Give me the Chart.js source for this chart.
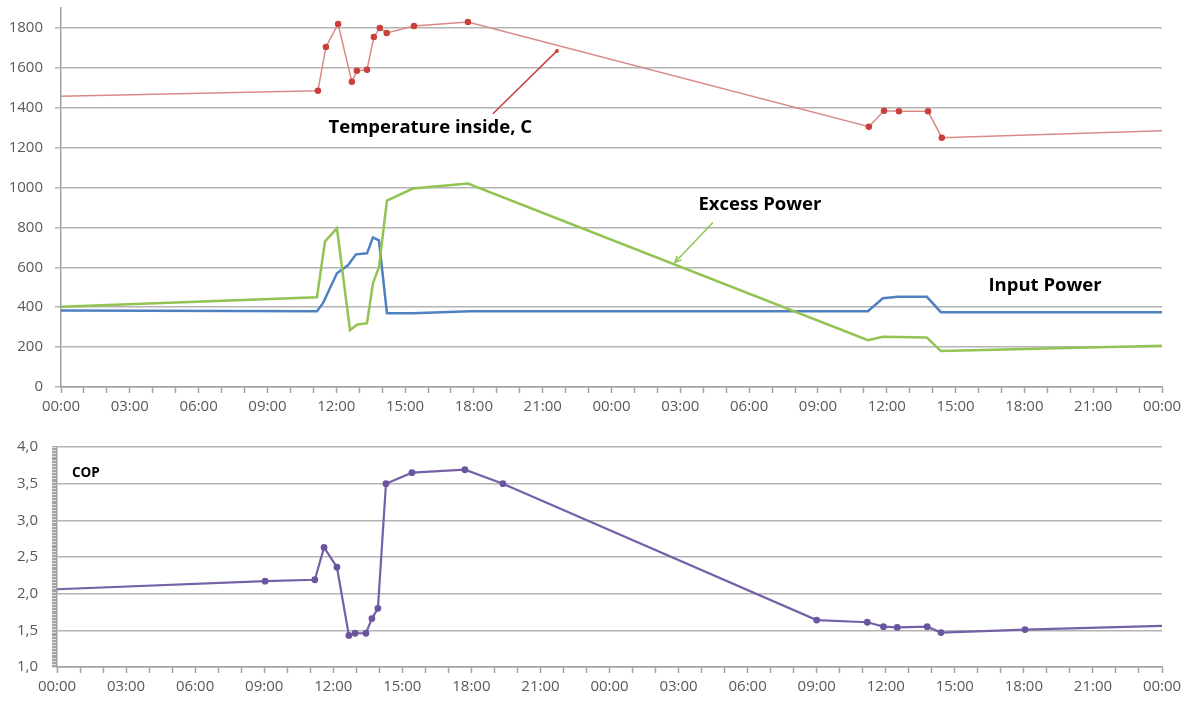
<!DOCTYPE html>
<html><head><meta charset="utf-8">
<script src="https://cdn.jsdelivr.net/npm/chart.js@4.4.0/dist/chart.umd.min.js"></script>
<style>
html,body{margin:0;padding:0;background:#fff;}
#wrap{position:relative;width:1192px;height:702px;overflow:hidden;background:#fff;}
#c1{position:absolute;left:0;top:-13px;}
#c2{position:absolute;left:0;top:424px;}
</style></head><body>
<div id="wrap"><canvas id="c1" width="1192" height="443"></canvas><canvas id="c2" width="1192" height="278"></canvas></div>
<script>
// ---- data (x = hours from the first midnight, 0..48) ----
const tempHours  = [0, 11.2, 11.55, 12.08, 12.68, 12.9, 13.34, 13.64, 13.9, 14.2, 15.39, 17.74, 35.22, 35.88, 36.53, 37.8, 38.4, 48];
const tempValues = [1458, 1485, 1705, 1820, 1530, 1585, 1590, 1755, 1800, 1775, 1810, 1830, 1305, 1385, 1382, 1382, 1250, 1285];

const excessHours  = [0, 11.16, 11.51, 12.03, 12.6, 12.9, 13.34, 13.6, 13.86, 14.21, 15.34, 17.74, 35.18, 35.83, 37.75, 38.36, 48];
const excessValues = [402, 450, 730, 795, 285, 312, 320, 520, 600, 935, 995, 1020, 235, 252, 248, 180, 207];

const inputHours  = [0, 11.16, 11.42, 12.03, 12.51, 12.86, 13.34, 13.6, 13.86, 14.21, 15.34, 17.83, 35.18, 35.83, 36.5, 37.75, 38.36, 48];
const inputValues = [383, 380, 420, 570, 610, 665, 670, 750, 735, 370, 370, 380, 380, 445, 452, 452, 375, 375];

const copHours  = [0, 9.04, 11.2, 11.6, 12.16, 12.68, 12.95, 13.42, 13.68, 13.94, 14.29, 15.42, 17.72, 19.37, 33.0, 35.2, 35.9, 36.5, 37.8, 38.4, 42.05, 48];
const copValues = [2.06, 2.17, 2.19, 2.63, 2.36, 1.43, 1.46, 1.46, 1.66, 1.80, 3.50, 3.65, 3.69, 3.50, 1.64, 1.61, 1.55, 1.54, 1.55, 1.47, 1.51, 1.56];

const topTicksY = [0, 200, 400, 600, 800, 1000, 1200, 1400, 1600, 1800];
const copTicksY = [1.0, 1.5, 2.0, 2.5, 3.0, 3.5, 4.0];

// annotation labels: [text, hour, value]
const topLabels = [["Temperature inside, C", 16.1, 1300], ["Excess Power", 30.47, 915], ["Input Power", 42.9, 510]];
const copLabels = [["COP", 0.65, 3.65]];
// annotation leader lines: [hour1, value1, hour2, value2]
const tempLeader   = [21.62, 1685, 18.83, 1370];
const excessLeader = [28.42, 825, 26.77, 625];

// ---- helpers ----
const pts = (hs, vs) => hs.map((h, i) => ({x: h, y: vs[i]}));
const hourLabel = v => (v % 3 === 0) ? String(v % 24).padStart(2, '0') + ':00' : '';
const GRID = '#b4b4b4';
const AXIS = '#a0a0a0';
const TXT = '#595959';

Chart.defaults.font.family = "'Open Sans', sans-serif";
Chart.defaults.font.size = 15;
Chart.defaults.color = TXT;

const notes = {
  id: 'notes',
  afterDatasetsDraw(chart, args, o) {
    const {ctx, scales: {x, y}} = chart;
    ctx.save();
    (o.lines || []).forEach(l => {
      const x1 = x.getPixelForValue(l.p[0]), y1 = y.getPixelForValue(l.p[1]);
      const x2 = x.getPixelForValue(l.p[2]), y2 = y.getPixelForValue(l.p[3]);
      ctx.strokeStyle = l.color; ctx.lineWidth = 1.5;
      ctx.beginPath(); ctx.moveTo(x1, y1); ctx.lineTo(x2, y2); ctx.stroke();
      if (l.dot) { ctx.fillStyle = l.color; ctx.beginPath(); ctx.arc(x1, y1, 2, 0, Math.PI * 2); ctx.fill(); }
      if (l.arrow) {
        const a = Math.atan2(y2 - y1, x2 - x1), s = 7;
        ctx.beginPath();
        ctx.moveTo(x2 - s * Math.cos(a - 0.45), y2 - s * Math.sin(a - 0.45));
        ctx.lineTo(x2, y2);
        ctx.lineTo(x2 - s * Math.cos(a + 0.45), y2 - s * Math.sin(a + 0.45));
        ctx.stroke();
      }
    });
    (o.texts || []).forEach(t => {
      ctx.font = t.font; ctx.fillStyle = '#000'; ctx.textAlign = t.align; ctx.textBaseline = 'middle';
      ctx.fillText(t.t, x.getPixelForValue(t.h), y.getPixelForValue(t.v));
    });
    ctx.restore();
  }
};

const xAxis = (h) => ({
  type: 'linear', min: 0, max: 48,
  afterFit: s => { s.height = h; },
  grid: {drawOnChartArea: false, drawTicks: true, tickLength: 6, tickColor: AXIS, tickWidth: 1.5},
  border: {color: AXIS, width: 1.5},
  ticks: {stepSize: 1, autoSkip: false, maxRotation: 0, maxTicksLimit: 100, padding: 5, callback: hourLabel, color: TXT}
});

// ---- top chart ----
new Chart(document.getElementById('c1'), {
  type: 'line',
  data: {datasets: [
    {label: 'Temperature inside, C', data: pts(tempHours, tempValues), borderColor: '#d98a88', borderWidth: 1.5,
     pointBackgroundColor: '#c9403c', pointBorderColor: '#c9403c', pointStyle: 'circle',
     pointRadius: c => (c.dataIndex === 0 || c.dataIndex === tempHours.length - 1) ? 0 : 2.5, tension: 0},
    {label: 'Excess Power', data: pts(excessHours, excessValues), borderColor: '#92c353', borderWidth: 2.5, pointRadius: 0, tension: 0},
    {label: 'Input Power', data: pts(inputHours, inputValues), borderColor: '#4f81c0', borderWidth: 2.5, pointRadius: 0, tension: 0}
  ]},
  options: {
    responsive: false, animation: false,
    layout: {padding: {top: 8, right: 30, left: 0, bottom: 0}},
    plugins: {legend: {display: false}, tooltip: {enabled: false},
      notes: {
        texts: topLabels.map(l => ({t: l[0], h: l[1], v: l[2], align: 'center', font: "bold 18.5px 'Open Sans', sans-serif"})),
        lines: [{p: tempLeader, color: '#c9403c', dot: true}, {p: excessLeader, color: '#92c353', arrow: true}]
      }},
    scales: {
      x: xAxis(43),
      y: {
        min: 0, max: 1900,
        afterFit: s => { s.width = 61; },
        afterBuildTicks: s => { s.ticks = topTicksY.map(v => ({value: v})); },
        grid: {color: GRID, lineWidth: 1.5, tickLength: 6, tickColor: GRID},
        border: {color: AXIS, width: 1.5},
        ticks: {padding: 12, color: TXT, callback: v => String(v)}
      }
    }
  },
  plugins: [notes]
});

// ---- bottom chart (COP) ----
const isMajor = v => Math.abs(v * 2 - Math.round(v * 2)) < 1e-6;
new Chart(document.getElementById('c2'), {
  type: 'line',
  data: {datasets: [
    {label: 'COP', data: pts(copHours, copValues), borderColor: '#7561a8', borderWidth: 2.2,
     pointBackgroundColor: '#6a559e', pointBorderColor: '#6a559e',
     pointRadius: c => (c.dataIndex === 0 || c.dataIndex === copHours.length - 1) ? 0 : 2.3, tension: 0}
  ]},
  options: {
    responsive: false, animation: false,
    layout: {padding: {top: 16, right: 30, left: 0, bottom: 0}},
    plugins: {legend: {display: false}, tooltip: {enabled: false},
      notes: {texts: copLabels.map(l => ({t: l[0], h: l[1], v: l[2], align: 'left', font: "bold 13.5px 'Open Sans', sans-serif"}))}},
    scales: {
      x: xAxis(35),
      y: {
        min: 1, max: 4,
        afterFit: s => { s.width = 57; },
        afterBuildTicks: s => {
          const t = [];
          for (let i = 0; i <= 150; i++) t.push({value: 1 + i * 0.02});
          s.ticks = t;
        },
        grid: {color: c => (c.tick && isMajor(c.tick.value)) ? GRID : 'rgba(0,0,0,0)', lineWidth: 1.5,
               tickLength: 5, tickColor: '#8a8a8a', tickWidth: 1},
        border: {color: AXIS, width: 1.5},
        ticks: {autoSkip: false, padding: 14, color: TXT,
          callback: v => isMajor(v) ? (Math.round(v * 2) / 2).toFixed(1).replace('.', ',') : ''}
      }
    }
  },
  plugins: [notes]
});
</script>
</body></html>
